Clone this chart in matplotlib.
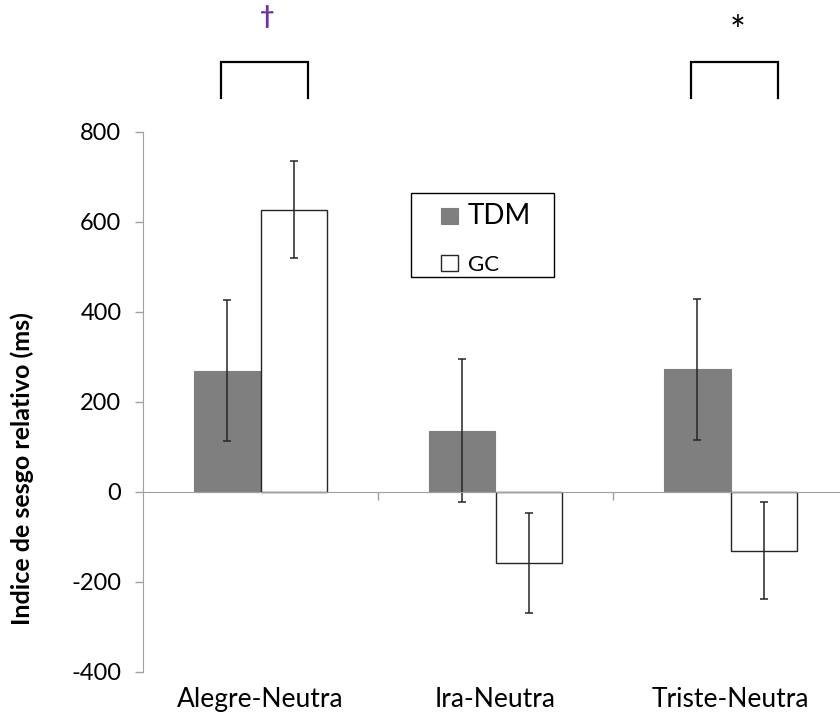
import matplotlib
matplotlib.use("Agg")
import matplotlib.pyplot as plt
from matplotlib.patches import Rectangle
import numpy as np

plt.rcParams['font.family'] = ['Lato', 'DejaVu Sans']
plt.rcParams['axes.unicode_minus'] = False

# relative bias index per emotion pair
categories = ['Alegre-Neutra', 'Ira-Neutra', 'Triste-Neutra']
tdm = [270, 136, 273]
tdm_err = [156, 159, 157]
gc = [627, -157, -130]
gc_err = [108, 111, 107]

# significance marks over the pairs
sig_marks = {0: ('\u2020', '#7030A0'), 2: ('*', 'black')}

axis_grey = '#A0A0A0'

fig = plt.figure(figsize=(8.4, 7.2), dpi=100)
ax = fig.add_axes([143 / 840, 48 / 720, 705 / 840, 540 / 720])

x = np.arange(len(categories))
w = 0.285
err_kw = dict(ecolor='#262626', elinewidth=1.1, capsize=3, capthick=1.1)

b1 = ax.bar(x - w / 2, tdm, w, yerr=tdm_err, color='#7F7F7F', edgecolor='#7F7F7F',
            linewidth=0.8, label='TDM', error_kw=err_kw, zorder=2)
b2 = ax.bar(x + w / 2, gc, w, yerr=gc_err, color='white', edgecolor='#262626',
            linewidth=1.0, label='GC', error_kw=err_kw, zorder=2)

ax.set_xlim(-0.5, 2.5)
ax.set_ylim(-400, 800)
ax.set_yticks(np.arange(-400, 801, 200))
ax.tick_params(axis='y', labelsize=17, length=5.5, pad=10, color=axis_grey, width=1)

# x axis runs through zero, ticks separate the groups
ax.spines['bottom'].set_position(('data', 0))
ax.spines['bottom'].set_color(axis_grey)
ax.spines['left'].set_color(axis_grey)
ax.spines['top'].set_visible(False)
ax.spines['right'].set_visible(False)
ax.set_xticks([0.5, 1.5, 2.5])
ax.tick_params(axis='x', labelbottom=False, length=6, color=axis_grey, width=1)

# group names sit under the plot, below -400
sec = ax.secondary_xaxis('bottom')
sec.set_xticks(x, labels=categories)
sec.tick_params(length=0, pad=11, labelsize=19)
sec.spines['bottom'].set_visible(False)

fig.text(22 / 840, 1 - 469 / 720, 'Indice de sesgo relativo (ms)', rotation=90,
         fontsize=18, fontweight='bold', ha='center', va='center')

# brackets and significance symbols above the pairs
for i, (sym, col) in sig_marks.items():
    xl, xr = i - 0.17, i + 0.2
    ax.plot([xl, xl, xr, xr], [876, 956, 956, 876], color='black', lw=1.6,
            clip_on=False, solid_joinstyle='miter')
    if sym == '*':
        ax.text(i + 0.03, 1020, sym, ha='center', va='center', fontsize=27,
                color=col, clip_on=False)
    else:
        ax.text(i + 0.03, 1056, sym, ha='center', va='center', fontsize=18,
                color=col, fontweight='bold', clip_on=False)

# legend entries without frame, box drawn separately
leg = ax.legend(handles=[b1, b2], loc='upper left',
                bbox_to_anchor=(441 / 840, 1 - 203 / 720), bbox_transform=fig.transFigure,
                borderaxespad=0, borderpad=0, fontsize=16, frameon=False,
                handlelength=0.78, handleheight=0.72, handletextpad=0.42,
                labelspacing=1.15)
leg.get_texts()[0].set_fontsize(20)
fig.add_artist(Rectangle((411 / 840, 1 - 277 / 720), 143 / 840, 84 / 720,
                         transform=fig.transFigure, facecolor='none',
                         edgecolor='black', linewidth=1.0))

fig.savefig('out.png', dpi=100)
